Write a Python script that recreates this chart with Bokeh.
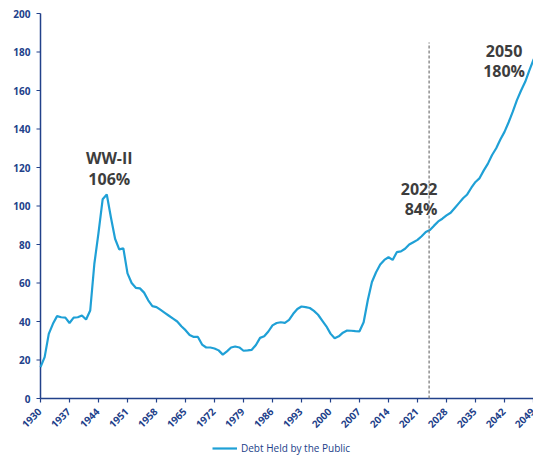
import math
from bokeh.plotting import figure
from bokeh.models import Legend, LegendItem, Range1d
from bokeh.core.properties import value
from bokeh.embed import file_html
from bokeh.resources import INLINE

years = list(range(1930, 2051))
debt = [16.3, 21.5, 33.6, 38.8, 42.8, 42.2, 42.0, 39.2, 42.0, 42.2,
        43.1, 41.0, 45.7, 70.0, 86.0, 103.5, 106.0, 94.0, 83.0, 77.5,
        78.0, 65.0, 60.0, 57.5, 57.2, 55.0, 51.0, 48.0, 47.5, 46.0,
        44.5, 43.0, 41.5, 40.0, 37.5, 35.5, 33.0, 32.0, 32.0, 28.0,
        26.5, 26.5, 26.0, 25.0, 22.8, 24.5, 26.5, 27.0, 26.5, 24.8,
        25.0, 25.3, 27.8, 31.5, 32.3, 34.8, 38.0, 39.2, 39.6, 39.3,
        40.8, 44.0, 46.5, 47.8, 47.5, 47.0, 45.5, 43.5, 40.5, 37.5,
        33.7, 31.3, 32.3, 34.2, 35.3, 35.2, 35.0, 34.9, 39.6, 51.0,
        60.5, 65.6, 69.6, 72.0, 73.4, 72.0, 76.0, 76.4, 77.8, 80.0,
        81.2, 82.4, 84.3, 86.5, 87.5, 89.8, 92.0, 93.4, 95.1, 96.5,
        99.0, 101.5, 104.0, 106.0, 109.5, 112.5, 114.5, 118.5, 122.0, 126.5,
        130.0, 134.5, 138.5, 143.5, 149.0, 155.0, 160.0, 164.5, 170.5, 176.0,
        180.0]

x_ticks = list(range(1930, 2050, 7))
x_tick_labels = [str(t) for t in x_ticks]
y_ticks = list(range(0, 201, 20))
y_tick_labels = [str(t) for t in y_ticks]

marker_year = [2023.8]
marker_top = [185]

ann_left_x = [1946.6, 1946.6]
ann_left_y = [124.7, 113.8]
ann_left_text = ["WW-II", "106%"]

ann_mid_x = [2025.8, 2025.8]
ann_mid_y = [108.6, 98.2]
ann_mid_text = ["2022", "84%"]

ann_right_x = [2041.9, 2041.9]
ann_right_y = [180.5, 169.9]
ann_right_text = ["2050", "180%"]

NAVY = "#22418a"
LINE = "#1fa0d6"
FONT = "Open Sans"

W, H = 533, 458
X0, X1 = 1930, 2049
Y0, Y1 = 0, 200
LEFT_PX, TOP_PX, AXIS_PX = 40, 13, 398
PX_X = (W - LEFT_PX) / (X1 - X0)
PX_Y = (AXIS_PX - TOP_PX) / (Y1 - Y0)
xr = Range1d(X0 - LEFT_PX / PX_X, X1)
yr = Range1d(Y0 - (H - AXIS_PX) / PX_Y, Y1 + TOP_PX / PX_Y)
TICK_X = 4 / PX_X
TICK_Y = 4 / PX_Y

p = figure(width=W, height=H, frame_width=W, frame_height=H,
           output_backend="svg", toolbar_location=None,
           x_range=xr, y_range=yr,
           x_axis_location=None, y_axis_location=None,
           min_border=0)
p.outline_line_color = None
p.xgrid.grid_line_color = None
p.ygrid.grid_line_color = None
p.background_fill_color = "white"
p.border_fill_color = "white"

tick_font = dict(text_font=value(FONT), text_font_style="bold",
                 text_font_size="10px", text_color=NAVY)

# y axis
p.segment(x0=[X0], y0=[Y0], x1=[X0], y1=[Y1], line_color=NAVY, line_width=1.5)
p.segment(x0=[X0] * len(y_ticks), y0=y_ticks, x1=[X0 - TICK_X] * len(y_ticks),
          y1=y_ticks, line_color=NAVY, line_width=1.2)
p.text([X0] * len(y_ticks), y_ticks, text=y_tick_labels, text_align="right",
       text_baseline="middle", x_offset=-10, **tick_font)

# x axis
p.segment(x0=[X0], y0=[Y0], x1=[X1], y1=[Y0], line_color=NAVY, line_width=1.5)
p.segment(x0=x_ticks, y0=[Y0] * len(x_ticks), x1=x_ticks,
          y1=[Y0 - TICK_Y] * len(x_ticks), line_color=NAVY, line_width=1.2)
p.text(x_ticks, [Y0] * len(x_ticks), text=x_tick_labels, angle=math.pi / 4,
       text_align="right", text_baseline="middle", x_offset=-1, y_offset=11,
       **tick_font)

r = p.line(years, debt, line_color=LINE, line_width=2.2)

p.segment(x0=marker_year, y0=[0], x1=marker_year, y1=marker_top,
          line_color="#7f7f7f", line_width=1.3, line_dash="3 2")

common = dict(text_font=value(FONT), text_font_style="bold",
              text_font_size="16px", text_color="#3d3d3d",
              text_baseline="middle")
p.text(ann_left_x, ann_left_y, text=ann_left_text, text_align="center", **common)
p.text(ann_mid_x, ann_mid_y, text=ann_mid_text, text_align="right", **common)
p.text(ann_right_x, ann_right_y, text=ann_right_text, text_align="center", **common)

legend = Legend(items=[LegendItem(label="Debt Held by the Public", renderers=[r])],
                location=(212, 3), orientation="horizontal",
                padding=0, margin=0, spacing=0,
                glyph_width=25, glyph_height=12, label_height=12,
                label_standoff=4,
                label_text_font=FONT, label_text_font_size="10px",
                label_text_color=NAVY, border_line_color=None,
                background_fill_alpha=0)
p.add_layout(legend, "center")

open("out.html", "w").write(file_html(p, INLINE))
